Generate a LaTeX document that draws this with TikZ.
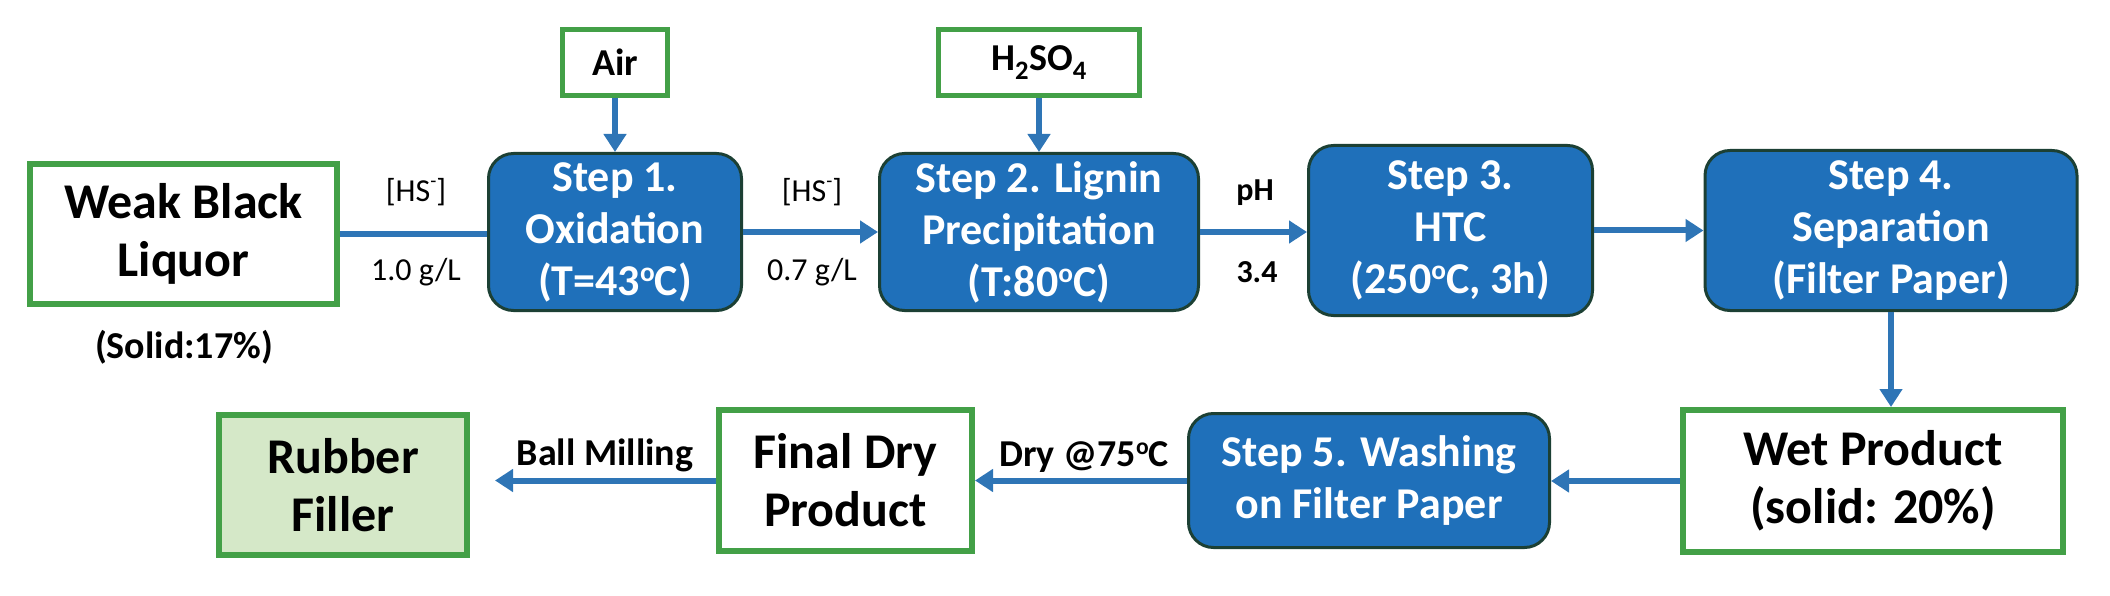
\documentclass[tikz,border=0pt]{standalone}
\usepackage{fontspec}
\setmainfont{Carlito}
\usetikzlibrary{arrows.meta}
\definecolor{gbord}{RGB}{67,160,71}
\definecolor{sblue}{RGB}{31,112,186}
\definecolor{sbord}{RGB}{28,64,52}
\definecolor{ablue}{RGB}{46,117,182}
\definecolor{lgreen}{RGB}{213,232,200}
\newcommand{\supo}{\raisebox{0.32em}{\scalebox{0.62}{o}}}
\newcommand{\supm}{\raisebox{0.42em}{\scalebox{0.62}{-}}}
\begin{document}
\begin{tikzpicture}[x=1pt,y=-1pt,
  gbox/.style={draw=gbord, line width=6pt, fill=white, inner sep=0pt, align=center, font=\fontsize{50}{58}\selectfont\bfseries},
  stepbox/.style={draw=sbord, line width=3pt, fill=sblue, rounded corners=25pt, inner sep=0pt, align=center, text=white, font=\fontsize{44}{52}\selectfont\bfseries},
  smallbox/.style={draw=gbord, line width=5pt, fill=white, inner sep=0pt, font=\fontsize{38}{44}\selectfont\bfseries},
  flowline/.style={draw=ablue, line width=6pt},
  flow/.style={flowline, -{Triangle[length=18pt,width=22pt]}},
  lbl/.style={font=\fontsize{32}{38}\selectfont, inner sep=0pt},
  blbl/.style={font=\fontsize{38}{44}\selectfont\bfseries, inner sep=0pt},
]
\useasboundingbox (0,0) rectangle (2110,596);
% nodes
\node[gbox, minimum width=307, minimum height=140] (wbl) at (183.5,234) {Weak Black\\Liquor};
\node[smallbox, minimum width=105, minimum height=66] (air) at (615,62.5) {Air};
\node[smallbox, minimum width=201, minimum height=66] (acid) at (1039,62.5) {H\textsubscript{2}SO\textsubscript{4}};
\node[stepbox, minimum width=253, minimum height=157] (s1) at (615,232) {Step 1.\\Oxidation\\(T=43\supo C)};
\node[stepbox, minimum width=319, minimum height=157] (s2) at (1039,232) {Step 2. Lignin\\Precipitation\\(T:80\supo C)};
\node[stepbox, minimum width=284, minimum height=170] (s3) at (1450.5,230.5) {Step 3.\\HTC\\(250\supo C, 3h)};
\node[stepbox, minimum width=372, minimum height=160] (s4) at (1891,230.5) {Step 4.\\Separation\\(Filter Paper)};
\node[gbox, minimum width=380, minimum height=142] (wet) at (1873,481) {Wet Product\\(solid: 20\%)};
\node[stepbox, minimum width=361, minimum height=134] (s5) at (1369,480.5) {Step 5. Washing\\on Filter Paper};
\node[gbox, minimum width=253, minimum height=141] (dry) at (845.5,480.5) {Final Dry\\Product};
\node[gbox, fill=lgreen, minimum width=248, minimum height=140] (rub) at (343,485) {Rubber\\Filler};
% labels
\node[blbl] (solid) at (184,347) {(Solid:17\%)};
\node[lbl] (hs1) at (416,192) {[HS\supm]};
\node[lbl] (c1) at (416,272) {1.0 g/L};
\node[lbl] (hs2) at (812,192) {[HS\supm]};
\node[lbl] (c2) at (812,272) {0.7 g/L};
\node[lbl, font=\fontsize{32}{38}\selectfont\bfseries] (ph) at (1255,193) {pH};
\node[lbl, font=\fontsize{32}{38}\selectfont\bfseries] (phv) at (1257,272) {3.4};
\node[blbl] (ball) at (605,455) {Ball Milling};
\node[blbl] (drylbl) at (1084,457) {Dry @75\supo C};
% connectors
\draw[flowline] (wbl.east) -- (wbl.east -| s1.west);
\draw[flow] (s1.east) -- (s1.east -| s2.west);
\draw[flow] (s2.east) -- (s2.east -| s3.west);
\draw[flow] (s3.east) -- (s3.east -| s4.west);
\draw[flow] (air.south) -- (s1.north);
\draw[flow] (acid.south) -- (s2.north);
\draw[flow] (s4.south) -- (s4.south |- wet.north);
\draw[flow] (wet.west) -- (wet.west -| s5.east);
\draw[flow] (s5.west) -- (s5.west -| dry.east);
\draw[flow, shorten >=25pt] (dry.west) -- (dry.west -| rub.east);
\end{tikzpicture}
\end{document}
